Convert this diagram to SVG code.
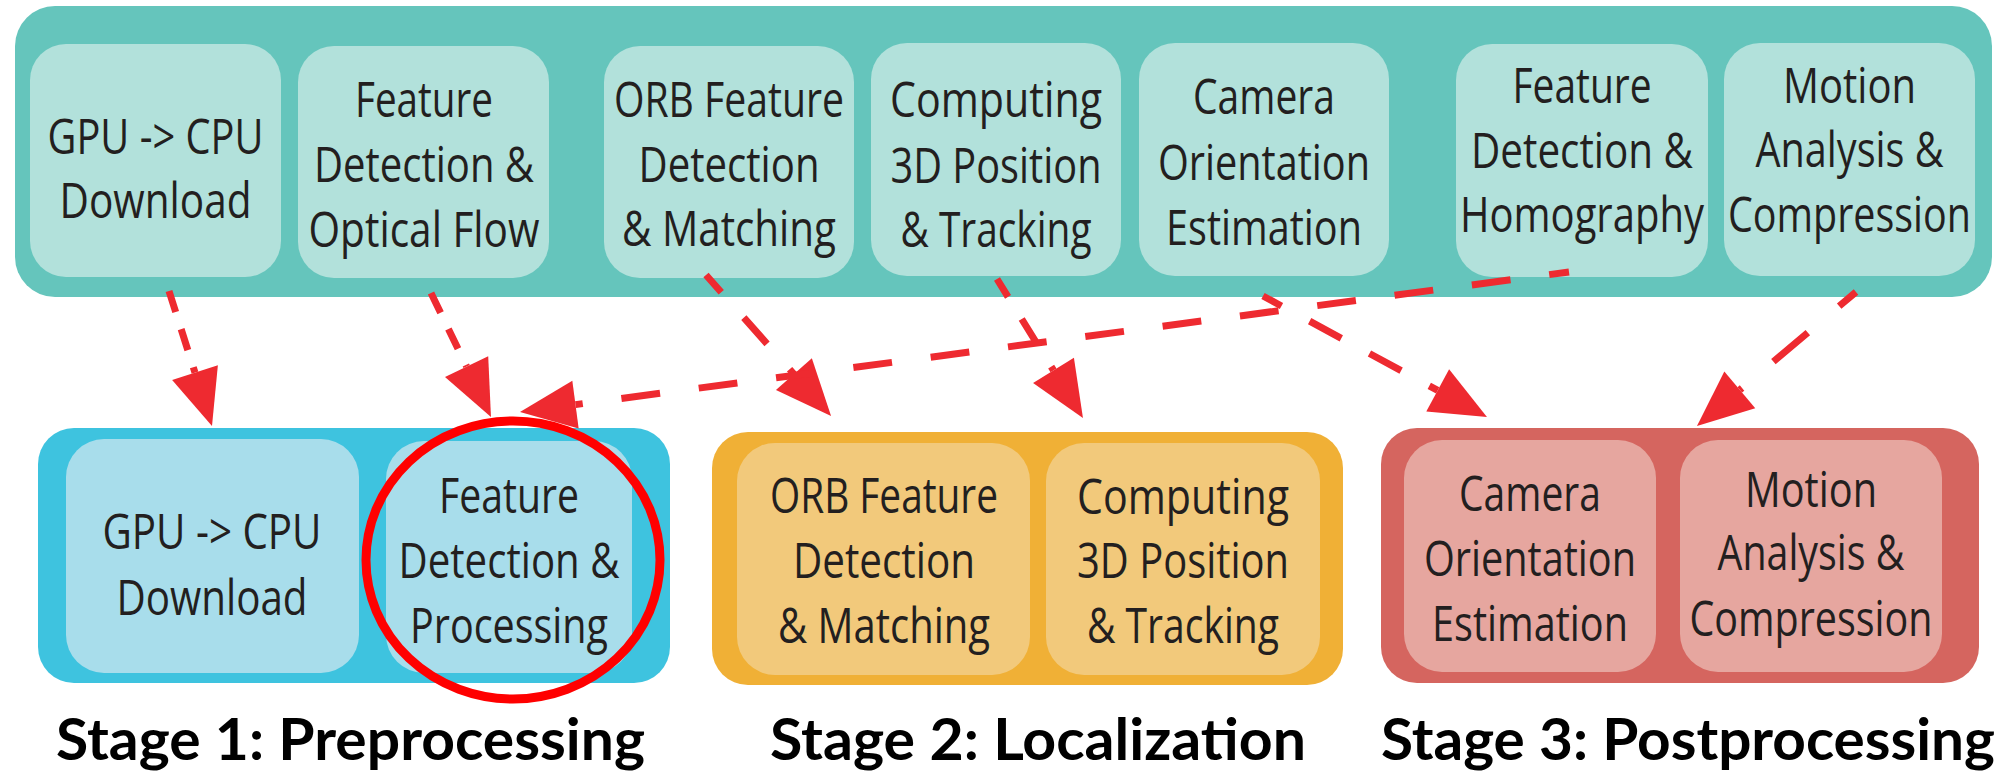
<svg xmlns="http://www.w3.org/2000/svg" width="1997" height="771" viewBox="0 0 1997 771">
<style>
.t{font-family:"Open Sans","Noto Sans",sans-serif;font-size:50px;fill:#231F20;text-anchor:middle}
.s{font-family:Lato,"Open Sans",sans-serif;font-weight:bold;font-size:57px;fill:#000;text-anchor:middle}
.tc{fill:#65C5BC}.tn{fill:#B2E1DB}
.bc{fill:#3EC3DF}.bn{fill:#A8DDEB}
.oc{fill:#F0B036}.on{fill:#F2C97B}
.rc{fill:#D5655F}.rn{fill:#E6A69F}
.a{fill:none;stroke:#EE2A30;stroke-width:7;marker-end:url(#ah)}
</style>
<defs>
<marker id="ah" markerUnits="userSpaceOnUse" markerWidth="56" markerHeight="48" viewBox="0 0 56 48" refX="0" refY="24" orient="auto" overflow="visible">
<path d="M0,0 L56,24 L0,48 Z" fill="#EE2A30"/>
</marker>
</defs>
<rect width="1997" height="771" fill="#fff"/>

<g id="top-stage">
<rect class="tc" x="15" y="6" width="1977" height="291" rx="40"/>
</g>
<g id="top-gpu">
<rect class="tn" x="30" y="44" width="251" height="233" rx="36"/>
<text class="t" x="155.5" y="154" textLength="216" lengthAdjust="spacingAndGlyphs">GPU -&gt; CPU</text>
<text class="t" x="155.5" y="218" textLength="192" lengthAdjust="spacingAndGlyphs">Download</text>
</g>
<g id="top-feature-optical">
<rect class="tn" x="298" y="46" width="251" height="232" rx="36"/>
<text class="t" x="424" y="117" textLength="138" lengthAdjust="spacingAndGlyphs">Feature</text>
<text class="t" x="424" y="182" textLength="220" lengthAdjust="spacingAndGlyphs">Detection &amp;</text>
<text class="t" x="424" y="247" textLength="231" lengthAdjust="spacingAndGlyphs">Optical Flow</text>
</g>
<g id="top-orb">
<rect class="tn" x="604" y="46" width="250" height="232" rx="36"/>
<text class="t" x="729" y="117" textLength="230" lengthAdjust="spacingAndGlyphs">ORB Feature</text>
<text class="t" x="729" y="182" textLength="181" lengthAdjust="spacingAndGlyphs">Detection</text>
<text class="t" x="729" y="246" textLength="214" lengthAdjust="spacingAndGlyphs">&amp; Matching</text>
</g>
<g id="top-computing">
<rect class="tn" x="871" y="43" width="250" height="233" rx="36"/>
<text class="t" x="996" y="117" textLength="212" lengthAdjust="spacingAndGlyphs">Computing</text>
<text class="t" x="996" y="183" textLength="211" lengthAdjust="spacingAndGlyphs">3D Position</text>
<text class="t" x="996" y="247" textLength="191" lengthAdjust="spacingAndGlyphs">&amp; Tracking</text>
</g>
<g id="top-camera">
<rect class="tn" x="1139" y="43" width="250" height="233" rx="36"/>
<text class="t" x="1264" y="114" textLength="142" lengthAdjust="spacingAndGlyphs">Camera</text>
<text class="t" x="1264" y="180" textLength="212" lengthAdjust="spacingAndGlyphs">Orientation</text>
<text class="t" x="1264" y="245" textLength="196" lengthAdjust="spacingAndGlyphs">Estimation</text>
</g>
<g id="top-homography">
<rect class="tn" x="1456" y="44" width="252" height="233" rx="36"/>
<text class="t" x="1582" y="103" textLength="139" lengthAdjust="spacingAndGlyphs">Feature</text>
<text class="t" x="1582" y="168" textLength="222" lengthAdjust="spacingAndGlyphs">Detection &amp;</text>
<text class="t" x="1582" y="232" textLength="244" lengthAdjust="spacingAndGlyphs">Homography</text>
</g>
<g id="top-motion">
<rect class="tn" x="1724" y="43" width="251" height="233" rx="36"/>
<text class="t" x="1849.5" y="103" textLength="133" lengthAdjust="spacingAndGlyphs">Motion</text>
<text class="t" x="1849.5" y="167" textLength="188" lengthAdjust="spacingAndGlyphs">Analysis &amp;</text>
<text class="t" x="1849.5" y="232" textLength="243" lengthAdjust="spacingAndGlyphs">Compression</text>
</g>

<g id="stage1">
<rect class="bc" x="38" y="428" width="632" height="255" rx="36"/>
<text class="s" x="350.5" y="760" textLength="589" lengthAdjust="spacingAndGlyphs">Stage 1: Preprocessing</text>
</g>
<g id="s1-gpu">
<rect class="bn" x="66" y="439" width="293" height="234" rx="38"/>
<text class="t" x="212" y="549" textLength="219" lengthAdjust="spacingAndGlyphs">GPU -&gt; CPU</text>
<text class="t" x="212" y="615" textLength="191" lengthAdjust="spacingAndGlyphs">Download</text>
</g>
<g id="s1-feature">
<rect class="bn" x="386" y="441" width="246" height="232" rx="38"/>
<text class="t" x="509" y="513" textLength="140" lengthAdjust="spacingAndGlyphs">Feature</text>
<text class="t" x="509" y="578" textLength="221" lengthAdjust="spacingAndGlyphs">Detection &amp;</text>
<text class="t" x="509" y="643" textLength="198" lengthAdjust="spacingAndGlyphs">Processing</text>
</g>

<g id="stage2">
<rect class="oc" x="712" y="432" width="631" height="253" rx="36"/>
<text class="s" x="1038" y="760" textLength="536" lengthAdjust="spacingAndGlyphs">Stage 2: Localization</text>
</g>
<g id="s2-orb">
<rect class="on" x="737" y="443" width="293" height="232" rx="38"/>
<text class="t" x="884" y="513" textLength="228" lengthAdjust="spacingAndGlyphs">ORB Feature</text>
<text class="t" x="884" y="578" textLength="182" lengthAdjust="spacingAndGlyphs">Detection</text>
<text class="t" x="884" y="643" textLength="212" lengthAdjust="spacingAndGlyphs">&amp; Matching</text>
</g>
<g id="s2-computing">
<rect class="on" x="1046" y="443" width="274" height="232" rx="38"/>
<text class="t" x="1183" y="514" textLength="212" lengthAdjust="spacingAndGlyphs">Computing</text>
<text class="t" x="1183" y="578" textLength="212" lengthAdjust="spacingAndGlyphs">3D Position</text>
<text class="t" x="1183" y="643" textLength="192" lengthAdjust="spacingAndGlyphs">&amp; Tracking</text>
</g>

<g id="stage3">
<rect class="rc" x="1381" y="428" width="598" height="255" rx="36"/>
<text class="s" x="1688" y="760" textLength="614" lengthAdjust="spacingAndGlyphs">Stage 3: Postprocessing</text>
</g>
<g id="s3-camera">
<rect class="rn" x="1404" y="440" width="252" height="232" rx="38"/>
<text class="t" x="1530" y="511" textLength="142" lengthAdjust="spacingAndGlyphs">Camera</text>
<text class="t" x="1530" y="576" textLength="212" lengthAdjust="spacingAndGlyphs">Orientation</text>
<text class="t" x="1530" y="641" textLength="196" lengthAdjust="spacingAndGlyphs">Estimation</text>
</g>
<g id="s3-motion">
<rect class="rn" x="1680" y="440" width="262" height="232" rx="38"/>
<text class="t" x="1811" y="507" textLength="132" lengthAdjust="spacingAndGlyphs">Motion</text>
<text class="t" x="1811" y="570" textLength="187" lengthAdjust="spacingAndGlyphs">Analysis &amp;</text>
<text class="t" x="1811" y="636" textLength="243" lengthAdjust="spacingAndGlyphs">Compression</text>
</g>

<g id="connectors">
<path class="a" d="M169,291 L195,372.6" stroke-dasharray="22 18"/>
<path class="a" d="M431,293 L466.6,366.6" stroke-dasharray="22 18"/>
<path class="a" d="M706,275 L793.9,374.1" stroke-dasharray="35 34" stroke-dashoffset="12"/>
<path class="a" d="M997,279 L1053.5,370.4" stroke-dasharray="30 26" stroke-dashoffset="9"/>
<path class="a" d="M1263,296 L1437.7,390.4" stroke-dasharray="36 32" stroke-dashoffset="15"/>
<path class="a" d="M1856,292 L1739.8,389.9" stroke-dasharray="45 41" stroke-dashoffset="23"/>
<path class="a" d="M1569,272 L575.5,404.6" stroke-dasharray="39 39" stroke-dashoffset="19"/>
</g>

<g id="highlight">
<ellipse cx="513" cy="560" rx="147" ry="139" fill="none" stroke="#FF0000" stroke-width="9"/>
</g>
</svg>
